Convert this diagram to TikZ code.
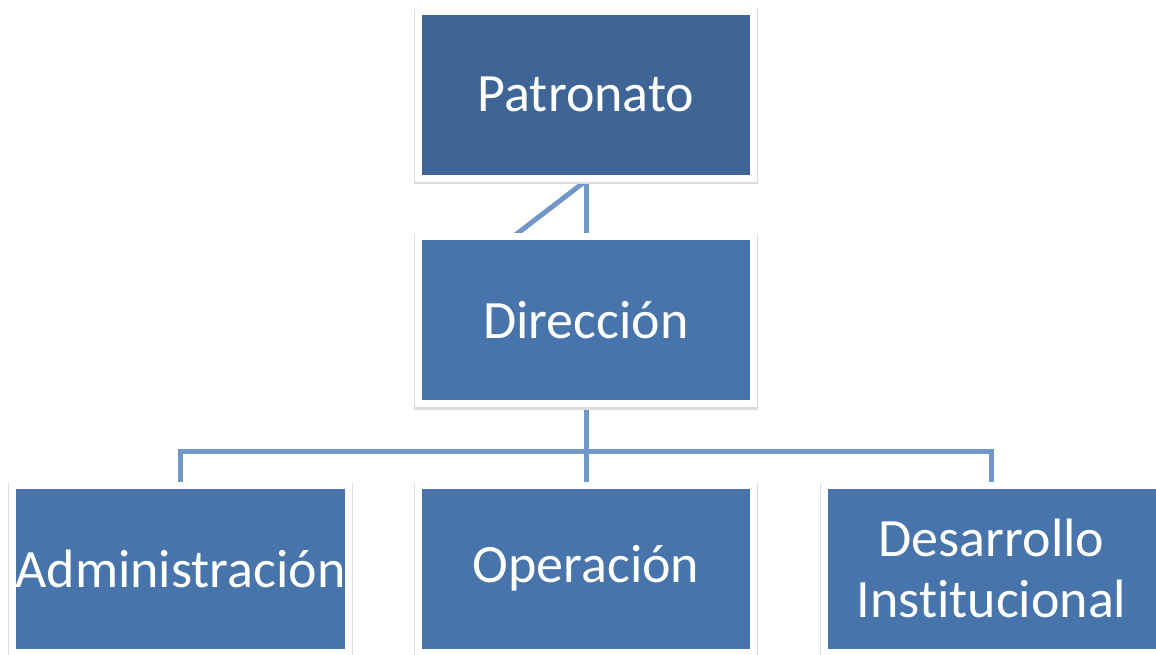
\documentclass[tikz,border=0pt]{standalone}
\usepackage{fontspec}
\setmainfont{Carlito}[Ligatures={NoCommon,NoRequired,NoContextual},Contextuals=NoAlternate]
\usetikzlibrary{backgrounds}
\definecolor{topblue}{HTML}{3E6596}
\definecolor{boxblue}{HTML}{4774AA}
\definecolor{linkblue}{HTML}{7396C8}
\tikzset{
  orgbox/.style={rectangle, draw=white, line width=7pt, fill=boxblue,
    minimum width=335pt, minimum height=167pt, inner sep=0pt,
    text=white, align=center, font=\fontsize{54}{61}\selectfont,
    preaction={draw=black!14, fill=black!14, line width=8.5pt, transform canvas={yshift=-2pt}}},
  link/.style={draw=linkblue, line width=5pt}
}
\begin{document}
\begin{tikzpicture}[x=1pt,y=-1pt]
\useasboundingbox (0,0) rectangle (1156,654);
\node[orgbox, fill=topblue] (P) at (586,94.5) {Patronato};
\node[orgbox] (D) at (586,320) {Dirección};
\node[orgbox, minimum width=336pt] (A) at (180.5,568.5) {Administración};
\node[orgbox] (O) at (586,568.5) {Operación};
\node[orgbox] (I) at (991.5,568.5) {Desarrollo\\Institucional};
\coordinate (bus) at (586,451);
\begin{scope}[on background layer]
  \draw[link] (P.south) -- (D.north);
  \draw[link] ([xshift=-1pt]P.south) -- ([xshift=-72pt,yshift=-3pt]D.north);
  \draw[link] (D.south) -- (O.north);
  \draw[link] (A.north) |- (bus) -| (I.north);
\end{scope}
\end{tikzpicture}
\end{document}
